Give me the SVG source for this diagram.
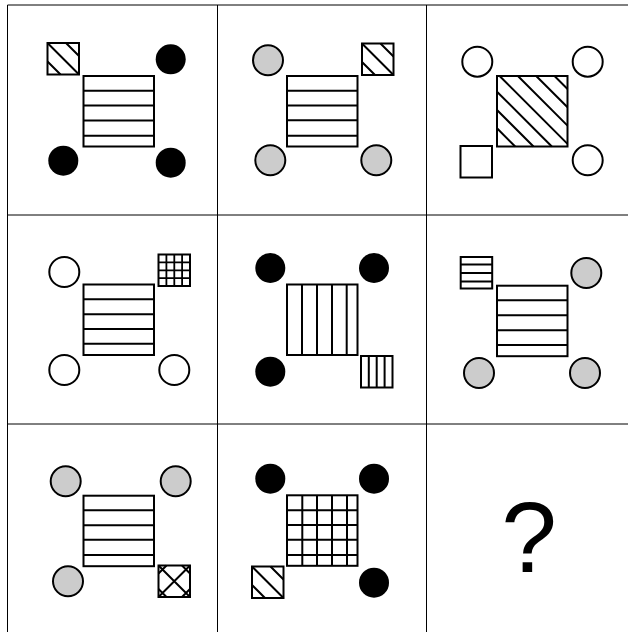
<svg xmlns="http://www.w3.org/2000/svg" width="628" height="632" viewBox="0 0 628 632">
<style>
.grid{stroke:#000;stroke-width:1;fill:none}
.box{fill:none;stroke:#000;stroke-width:2}
.bg{fill:#fff;stroke:#000;stroke-width:2}
.h{stroke:#000;stroke-width:2;fill:none}
.hs{stroke:#000;stroke-width:1.8;fill:none}
.blk{fill:#000}
.gry{fill:#ccc;stroke:#000;stroke-width:2}
.wht{fill:#fff;stroke:#000;stroke-width:2}
.q{font-family:"Liberation Sans",Arial,sans-serif;font-size:100px;fill:#000}
</style>
<rect x="0" y="0" width="628" height="632" fill="#fff"/>
<g id="grid" class="grid">
<line x1="7.5" y1="5" x2="7.5" y2="632"/>
<line x1="217.5" y1="5" x2="217.5" y2="632"/>
<line x1="426.5" y1="5" x2="426.5" y2="632"/>
<line x1="7.5" y1="5" x2="628" y2="5"/>
<line x1="7.5" y1="215" x2="628" y2="215"/>
<line x1="7.5" y1="424" x2="628" y2="424"/>
</g>

<g id="cell-1-1">
<path class="h" d="M47.5,43L79,74.5M66,43L79,56M47.5,61.5L60.5,74.5"/>
<rect class="box" x="47.5" y="43" width="31.5" height="31.5"/>
<circle class="blk" cx="170.7" cy="59.3" r="15"/>
<circle class="blk" cx="63.3" cy="160.7" r="15"/>
<circle class="blk" cx="170.7" cy="162.7" r="15"/>
<rect class="bg" x="83.5" y="76" width="70.5" height="70.5"/>
<path class="h" d="M83.5,90.8H154M83.5,105.5H154M83.5,120.5H154M83.5,135.7H154"/>
</g>

<g id="cell-1-2">
<circle class="gry" cx="268" cy="60.3" r="15"/>
<circle class="gry" cx="270.3" cy="160.3" r="15"/>
<circle class="gry" cx="376.3" cy="160.3" r="15"/>
<path class="h" d="M362,43.5L393.5,75M380.5,43.5L393.5,56.5M362,62L375,75"/>
<rect class="box" x="362" y="43.5" width="31.5" height="31.5"/>
<rect class="bg" x="287" y="76" width="70.5" height="70.5"/>
<path class="h" d="M287,90.8H357.5M287,105.5H357.5M287,120.3H357.5M287,135.7H357.5"/>
</g>

<g id="cell-1-3">
<circle class="wht" cx="477.3" cy="61.7" r="15"/>
<circle class="wht" cx="587.7" cy="61.7" r="15"/>
<circle class="wht" cx="587.7" cy="160.3" r="15"/>
<rect class="bg" x="460.5" y="146" width="31.5" height="31.5"/>
<path class="h" d="M499.6,76L567.5,143.9M517.9,76L567.5,125.6M536.2,76L567.5,107.3M554.5,76L567.5,89M497,91.7L551.8,146.5M497,110L533.5,146.5M497,128.3L515.2,146.5"/>
<rect class="box" x="497" y="76" width="70.5" height="70.5"/>
</g>

<g id="cell-2-1">
<circle class="wht" cx="64.3" cy="272" r="15"/>
<circle class="wht" cx="64.3" cy="370" r="15"/>
<circle class="wht" cx="174.3" cy="370" r="15"/>
<rect class="bg" x="158.5" y="254.5" width="31.5" height="31.5"/>
<path class="hs" d="M166.4,254.5V286M174.3,254.5V286M182.1,254.5V286M158.5,262.4H190M158.5,270.3H190M158.5,278.1H190"/>
<rect class="bg" x="83.5" y="284.5" width="70.5" height="70.5"/>
<path class="h" d="M83.5,299.3H154M83.5,314.3H154M83.5,329H154M83.5,343.7H154"/>
</g>

<g id="cell-2-2">
<circle class="blk" cx="270.3" cy="268" r="15"/>
<circle class="blk" cx="374" cy="268" r="15"/>
<circle class="blk" cx="270.3" cy="371.7" r="15"/>
<rect class="bg" x="287" y="284.5" width="70.5" height="70.5"/>
<path class="h" d="M302,284.5V355M317,284.5V355M332,284.5V355M346.7,284.5V355"/>
<rect class="bg" x="361" y="356" width="31.5" height="31.5"/>
<path class="h" d="M368.8,356V387.5M376.7,356V387.5M384.6,356V387.5"/>
</g>

<g id="cell-2-3">
<circle class="gry" cx="586.3" cy="273" r="15"/>
<circle class="gry" cx="479" cy="373" r="15"/>
<circle class="gry" cx="585" cy="373" r="15"/>
<rect class="bg" x="460.7" y="257" width="31.5" height="31.5"/>
<path class="h" d="M460.7,264.5H492.2M460.7,273H492.2M460.7,281.5H492.2"/>
<rect class="bg" x="497" y="285.7" width="70.5" height="70.5"/>
<path class="h" d="M497,300.3H567.5M497,315.3H567.5M497,330.3H567.5M497,345H567.5"/>
</g>

<g id="cell-3-1">
<circle class="gry" cx="65.7" cy="481.3" r="15"/>
<circle class="gry" cx="175.7" cy="481.3" r="15"/>
<circle class="gry" cx="68" cy="581.3" r="15"/>
<rect class="bg" x="83.5" y="495.7" width="70.5" height="70.5"/>
<path class="h" d="M83.5,510.3H154M83.5,525.3H154M83.5,539.7H154M83.5,555H154"/>
<path class="h" d="M158.5,565.5L190,597M182,565.5L190,573.5M158.5,589L166.5,597M158.5,597L190,565.5M166.5,565.5L158.5,573.5M190,589L182,597"/>
<rect class="box" x="158.5" y="565.5" width="31.5" height="31.5"/>
</g>

<g id="cell-3-2">
<circle class="blk" cx="270.3" cy="478.7" r="15"/>
<circle class="blk" cx="374" cy="478.7" r="15"/>
<circle class="blk" cx="374" cy="582.7" r="15"/>
<rect class="bg" x="287" y="495.3" width="70.5" height="70.5"/>
<path class="h" d="M302.3,495.3V565.8M317,495.3V565.8M332,495.3V565.8M347,495.3V565.8M287,510.3H357.5M287,525H357.5M287,539.7H357.5M287,555H357.5"/>
<path class="h" d="M252,566.5L283.5,598M270.5,566.5L283.5,579.5M252,585L265,598"/>
<rect class="box" x="252" y="566.5" width="31.5" height="31.5"/>
</g>

<g id="cell-3-3">
<text class="q" x="529" y="571.5" text-anchor="middle">?</text>
</g>
</svg>
